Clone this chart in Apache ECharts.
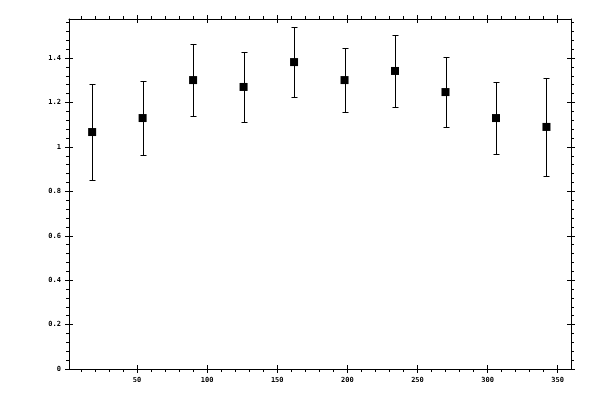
<!DOCTYPE html>
<html>
<head>
<meta charset="utf-8">
<script src="https://cdn.jsdelivr.net/npm/echarts@6/dist/echarts.min.js"></script>
<style>html,body{margin:0;padding:0;background:#fff}#c{width:600px;height:400px}</style>
</head>
<body>
<div id="c"></div>
<script>
// ---- data ----
var xValues = [18, 54, 90, 126, 162, 198, 234, 270, 306, 342];
var yValues = [1.067, 1.130, 1.301, 1.270, 1.382, 1.301, 1.342, 1.247, 1.130, 1.090];
var yErrors = [0.218, 0.167, 0.164, 0.159, 0.158, 0.143, 0.163, 0.157, 0.162, 0.221];
var xTickLabels = [50, 100, 150, 200, 250, 300, 350];
var yTickLabels = [0, 0.2, 0.4, 0.6, 0.8, 1, 1.2, 1.4];
var xMinorStep = 10, yMinorStep = 0.04;
var xMin = 1.5, xMax = 359.5, yMin = 0, yMax = 1.576;

var xMinor = [];
for (var v = 10; v < 360; v += xMinorStep) xMinor.push(v);
var yMinor = [];
for (var k = 1; k * yMinorStep < yMax; k++) yMinor.push(+(k * yMinorStep).toFixed(2));

var font = {color: '#000', fontFamily: 'DejaVu Sans Mono', fontSize: 7, fontWeight: 'bold'};

function mkAxis(kind, pos, showLine, ticks, inside, len, labels) {
  var a = {
    type: 'value', position: pos,
    min: kind === 'x' ? xMin : yMin, max: kind === 'x' ? xMax : yMax,
    splitLine: {show: false},
    axisLine: {show: showLine, onZero: false, lineStyle: {color: '#000', width: 1}},
    axisTick: {show: true, inside: inside, length: len, customValues: ticks,
               lineStyle: {color: '#000', width: 1}},
    axisLabel: labels ? Object.assign({show: true, margin: 8, customValues: labels,
               formatter: function (v) { return String(v); }}, font) : {show: false}
  };
  return a;
}

var xAxes = [
  mkAxis('x', 'bottom', true, xTickLabels, false, 4, xTickLabels),
  mkAxis('x', 'bottom', false, xTickLabels, true, 4, null),
  mkAxis('x', 'bottom', false, xMinor, false, 3, null),
  mkAxis('x', 'top', true, xTickLabels, false, 4, null),
  mkAxis('x', 'top', false, xTickLabels, true, 4, null),
  mkAxis('x', 'top', false, xMinor, false, 3, null)
];
var yAxes = [
  mkAxis('y', 'left', true, yTickLabels, false, 4, yTickLabels),
  mkAxis('y', 'left', false, yTickLabels, true, 4, null),
  mkAxis('y', 'left', false, yMinor, false, 3, null),
  mkAxis('y', 'right', true, yTickLabels, false, 4, null),
  mkAxis('y', 'right', false, yTickLabels, true, 4, null),
  mkAxis('y', 'right', false, yMinor, false, 3, null)
];

var pts = xValues.map(function (x, i) { return [x, yValues[i]]; });
var bars = xValues.map(function (x, i) { return [x, yValues[i] - yErrors[i], yValues[i] + yErrors[i]]; });

var chart = echarts.init(document.getElementById('c'), null, {renderer: 'canvas'});
chart.setOption({
  animation: false,
  backgroundColor: '#fff',
  grid: {left: 69, right: 29, top: 19, bottom: 31, containLabel: false},
  xAxis: xAxes,
  yAxis: yAxes,
  series: [
    {
      type: 'custom', xAxisIndex: 0, yAxisIndex: 0, data: bars,
      renderItem: function (params, api) {
        var x = api.value(0);
        var top = api.coord([x, api.value(2)]);
        var bot = api.coord([x, api.value(1)]);
        var cx = Math.round(top[0]) + 0.5;
        var ty = Math.round(top[1]) + 0.5, by = Math.round(bot[1]) + 0.5;
        var hw = 3;
        var st = {stroke: '#000', lineWidth: 1};
        return {type: 'group', children: [
          {type: 'line', shape: {x1: cx, y1: ty, x2: cx, y2: by}, style: st},
          {type: 'line', shape: {x1: cx - hw, y1: ty, x2: cx + hw, y2: ty}, style: st},
          {type: 'line', shape: {x1: cx - hw, y1: by, x2: cx + hw, y2: by}, style: st}
        ]};
      }
    },
    {
      type: 'scatter', xAxisIndex: 0, yAxisIndex: 0, data: pts,
      symbol: 'rect', symbolSize: 8,
      itemStyle: {color: '#000', opacity: 1}
    }
  ]
});
</script>
</body>
</html>
